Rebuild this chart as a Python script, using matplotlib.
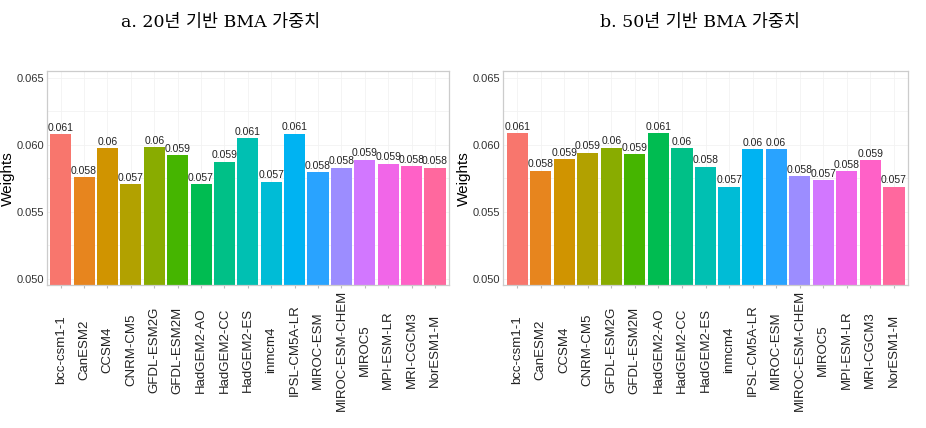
import numpy as np
import matplotlib
matplotlib.use('Agg')
import matplotlib.pyplot as plt

# GCM models and BMA weights
models = ['bcc-csm1-1', 'CanESM2', 'CCSM4', 'CNRM-CM5', 'GFDL-ESM2G', 'GFDL-ESM2M',
          'HadGEM2-AO', 'HadGEM2-CC', 'HadGEM2-ES', 'inmcm4', 'IPSL-CM5A-LR',
          'MIROC-ESM', 'MIROC-ESM-CHEM', 'MIROC5', 'MPI-ESM-LR', 'MRI-CGCM3', 'NorESM1-M']
weights_20 = [0.06078, 0.05760, 0.05975, 0.05708, 0.05983, 0.05925, 0.05708, 0.05875, 0.06052,
              0.05725, 0.06083, 0.05798, 0.05830, 0.05890, 0.05860, 0.05838, 0.05828]
weights_50 = [0.06085, 0.05808, 0.05895, 0.05941, 0.05979, 0.05931, 0.06085, 0.05974, 0.05836,
              0.05687, 0.05969, 0.05969, 0.05767, 0.05736, 0.05805, 0.05887, 0.05687]
titles = ['a. 20년 기반 BMA 가중치', 'b. 50년 기반 BMA 가중치']
yticks = [0.050, 0.055, 0.060, 0.065]


def hue_pal(n, c=100, l=65):
    # ggplot2 default discrete palette (HCL -> sRGB)
    h = np.deg2rad(np.linspace(15, 375, n + 1)[:-1])
    u, v = c * np.cos(h), c * np.sin(h)
    Xn, Yn, Zn = 95.047, 100.0, 108.883
    Y = Yn * ((l + 16) / 116) ** 3
    un = 4 * Xn / (Xn + 15 * Yn + 3 * Zn)
    vn = 9 * Yn / (Xn + 15 * Yn + 3 * Zn)
    up = u / (13 * l) + un
    vp = v / (13 * l) + vn
    X = 9 * Y * up / (4 * vp)
    Z = Y * (12 - 3 * up - 20 * vp) / (4 * vp)
    xyz = np.stack([X, np.full_like(X, Y), Z]) / 100
    M = np.array([[3.2404542, -1.5371385, -0.4985314],
                  [-0.9692660, 1.8760108, 0.0415560],
                  [0.0556434, -0.2040259, 1.0572252]])
    rgb = M @ xyz
    rgb = np.where(rgb <= 0.0031308, 12.92 * rgb, 1.055 * np.clip(rgb, 0, None) ** (1 / 2.4) - 0.055)
    return np.clip(rgb.T, 0, 1)


colors = hue_pal(len(models))
narrow = ['Liberation Sans Narrow', 'Liberation Sans', 'DejaVu Sans']
sans = ['Liberation Sans', 'DejaVu Sans']

fig = plt.figure(figsize=(9.26, 4.28), dpi=100)
boxes = [[0.0504, 0.333, 0.4345, 0.501], [0.5432, 0.333, 0.4374, 0.501]]
title_x = [0.238, 0.756]

for box, vals, title, tx in zip(boxes, [weights_20, weights_50], titles, title_x):
    ax = fig.add_axes(box)
    x = np.arange(len(models))
    ax.bar(x, vals, width=0.9, color=colors, zorder=2)
    for xi, v in zip(x, vals):
        ax.text(xi, v + 0.0001, f'{round(v, 3):g}', ha='center', va='bottom',
                fontsize=7.5, family=narrow, color='#222222', zorder=3)
    ax.set_xlim(-0.6, len(models) - 0.4)
    ax.set_ylim(0.04948, 0.06552)
    ax.set_yticks(yticks)
    ax.set_yticklabels([f'{t:.3f}' for t in yticks], family=narrow, fontsize=8, color='#333333')
    ax.set_yticks([0.0525, 0.0575, 0.0625], minor=True)
    ax.set_xticks(x)
    ax.set_xticklabels(models, rotation=90, va='center', ha='center', family=sans,
                       fontsize=9.5, color='#222222')
    ax.tick_params(axis='x', length=2.5, color='#bbbbbb', pad=44)
    ax.tick_params(axis='y', which='both', length=0, pad=2)
    ax.grid(True, which='both', color='#f2f2f2', linewidth=0.6, zorder=0)
    for s in ax.spines.values():
        s.set_color('#cccccc')
        s.set_linewidth(0.9)
    ax.set_ylabel('Weights', family=sans, fontsize=11, labelpad=1)
    fig.text(tx, 0.948, title, ha='center', va='center', fontsize=12.5,
             family=['DejaVu Serif', 'Noto Sans CJK KR'])

fig.savefig('out.png', dpi=100)
